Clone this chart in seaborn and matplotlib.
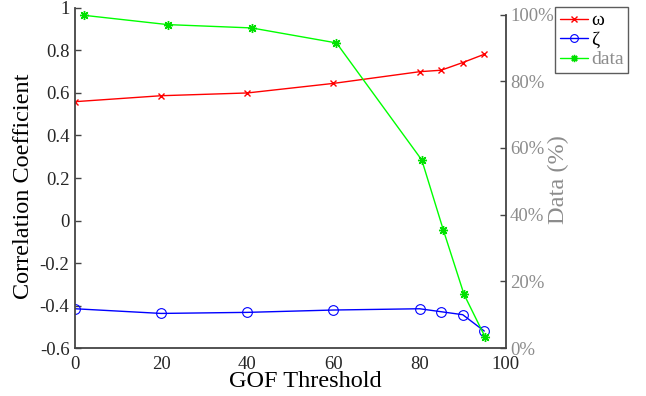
import matplotlib
matplotlib.use("Agg")
import matplotlib.pyplot as plt
import seaborn as sns
import pandas as pd
import numpy as np

# values
gof = [0, 20, 40, 60, 80, 85, 90, 95]
omega = [0.559, 0.587, 0.600, 0.645, 0.700, 0.707, 0.743, 0.782]
zeta = [-0.415, -0.437, -0.432, -0.421, -0.415, -0.429, -0.443, -0.520]
gof_data = [2, 21.5, 41, 60.7, 80.5, 85.5, 90.3, 95.2]
data_pct = [99.8, 97.0, 96.0, 91.5, 56.4, 35.4, 16.1, 3.3]

left_ticks = [-0.6, -0.4, -0.2, 0, 0.2, 0.4, 0.6, 0.8, 1]
right_ticks = [0, 20, 40, 60, 80, 100]
x_ticks = [0, 20, 40, 60, 80, 100]

sns.set_style("white")
plt.rcParams['font.family'] = ['Liberation Serif', 'DejaVu Serif']

spine_col = '#444444'
gray = '#8c8c8c'

fig = plt.figure(figsize=(6.46, 3.96), dpi=100)
ax = fig.add_axes([0.116, 0.121, 0.667, 0.859])
ax2 = ax.twinx()

sns.lineplot(x=gof, y=omega, ax=ax, color='red', marker='x', markersize=5,
             markeredgecolor='red', markeredgewidth=1.0, linewidth=1.0,
             label='ω', legend=False)
sns.lineplot(x=gof, y=zeta, ax=ax, color='blue', marker='o', markersize=7,
             markerfacecolor='none', markeredgecolor='blue', markeredgewidth=0.8,
             linewidth=1.0, label='ζ', legend=False)
sns.lineplot(x=gof_data, y=data_pct, ax=ax2, color='#00ff00', marker=(8, 2, 0),
             markersize=6.5, markeredgewidth=1.0, markeredgecolor='#00e000',
             linewidth=1.0, label='data', legend=False)

ax.set_xlim(0, 100)
ax.set_ylim(-0.6, 1.0)
ax2.set_ylim(0, 102)
ax.set_xticks(x_ticks)
ax.set_yticks(left_ticks)
ax.set_yticklabels([f"{v:g}" for v in left_ticks])
ax2.set_yticks(right_ticks)
ax2.set_yticklabels([f"{v}%" for v in right_ticks])

ax.set_xlabel("GOF Threshold", fontsize=17.5, color='black')
ax.set_ylabel("Correlation Coefficient", fontsize=17.5, color='black')
ax2.set_ylabel("Data (%)", fontsize=17.5, color=gray)
ax.xaxis.set_label_coords(0.534, -0.068)
ax.yaxis.set_label_coords(-0.095, 0.476)
ax2.yaxis.set_label_coords(1.0975, 0.494)

ax.tick_params(axis='both', direction='in', length=4, width=1, colors=spine_col,
               labelsize=13.5, labelcolor='#262626', pad=4)
ax.tick_params(axis='x', pad=5.5)
ax2.tick_params(axis='y', direction='in', length=4, width=1, colors=spine_col,
                labelsize=13.5, labelcolor=gray, pad=3)

for s in ['top', 'right']:
    ax.spines[s].set_visible(False)
for s in ['top', 'left', 'bottom']:
    ax2.spines[s].set_visible(False)
for s in ['left', 'bottom']:
    ax.spines[s].set_color(spine_col)
    ax.spines[s].set_linewidth(1.3)
ax2.spines['right'].set_color(spine_col)
ax2.spines['right'].set_linewidth(1.3)
ax2.spines['right'].set_bounds(0, 100)

handles = ax.get_lines()[:2] + ax2.get_lines()[:1]
leg = ax2.legend(handles=handles, labels=['ω', 'ζ', 'data'],
                 loc='upper left', bbox_to_anchor=(1.114, 1.003),
                 fontsize=14, frameon=True, fancybox=False, handlelength=1.45,
                 handletextpad=0.15, borderpad=0.25, labelspacing=0.1,
                 borderaxespad=0, markerscale=0.8)
leg.get_frame().set_edgecolor('#333333')
leg.get_frame().set_linewidth(1.0)
for txt, col in zip(leg.get_texts(), ['black', 'black', gray]):
    txt.set_color(col)

plt.savefig("out.png", dpi=100)
